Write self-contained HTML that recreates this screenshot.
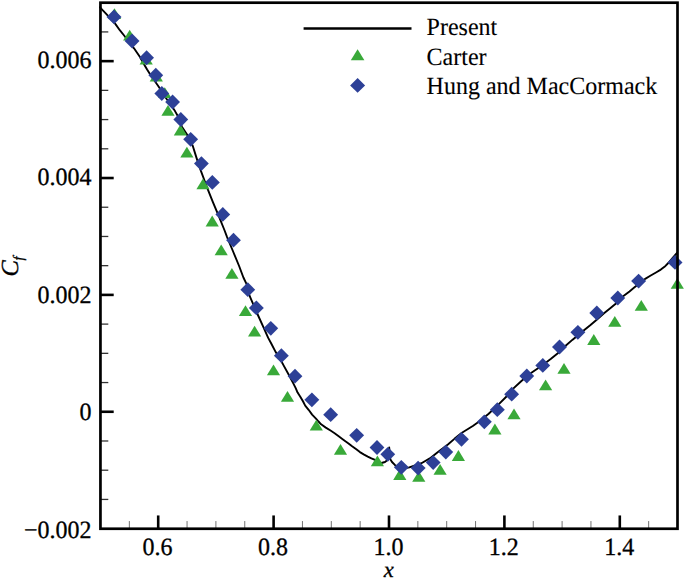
<!DOCTYPE html><html><head><meta charset="utf-8"><style>html,body{margin:0;padding:0;background:#fff;}svg{display:block;}text{font-family:"Liberation Serif",serif;text-rendering:geometricPrecision;stroke:#000;stroke-width:0.3px;}</style></head><body>
<svg width="685" height="580" viewBox="0 0 685 580">
<rect width="685" height="580" fill="#fff"/>
<line x1="129.35" y1="528.65" x2="129.35" y2="521.05" stroke="#000" stroke-width="1" stroke-opacity="0.55"/>
<line x1="158.20" y1="528.65" x2="158.20" y2="515.45" stroke="#000" stroke-width="2.6"/>
<line x1="187.05" y1="528.65" x2="187.05" y2="521.05" stroke="#000" stroke-width="1" stroke-opacity="0.55"/>
<line x1="215.90" y1="528.65" x2="215.90" y2="521.05" stroke="#000" stroke-width="1" stroke-opacity="0.55"/>
<line x1="244.75" y1="528.65" x2="244.75" y2="521.05" stroke="#000" stroke-width="1" stroke-opacity="0.55"/>
<line x1="273.60" y1="528.65" x2="273.60" y2="515.45" stroke="#000" stroke-width="2.6"/>
<line x1="302.45" y1="528.65" x2="302.45" y2="521.05" stroke="#000" stroke-width="1" stroke-opacity="0.55"/>
<line x1="331.30" y1="528.65" x2="331.30" y2="521.05" stroke="#000" stroke-width="1" stroke-opacity="0.55"/>
<line x1="360.15" y1="528.65" x2="360.15" y2="521.05" stroke="#000" stroke-width="1" stroke-opacity="0.55"/>
<line x1="389.00" y1="528.65" x2="389.00" y2="515.45" stroke="#000" stroke-width="2.6"/>
<line x1="417.85" y1="528.65" x2="417.85" y2="521.05" stroke="#000" stroke-width="1" stroke-opacity="0.55"/>
<line x1="446.70" y1="528.65" x2="446.70" y2="521.05" stroke="#000" stroke-width="1" stroke-opacity="0.55"/>
<line x1="475.55" y1="528.65" x2="475.55" y2="521.05" stroke="#000" stroke-width="1" stroke-opacity="0.55"/>
<line x1="504.40" y1="528.65" x2="504.40" y2="515.45" stroke="#000" stroke-width="2.6"/>
<line x1="533.25" y1="528.65" x2="533.25" y2="521.05" stroke="#000" stroke-width="1" stroke-opacity="0.55"/>
<line x1="562.10" y1="528.65" x2="562.10" y2="521.05" stroke="#000" stroke-width="1" stroke-opacity="0.55"/>
<line x1="590.95" y1="528.65" x2="590.95" y2="521.05" stroke="#000" stroke-width="1" stroke-opacity="0.55"/>
<line x1="619.80" y1="528.65" x2="619.80" y2="515.45" stroke="#000" stroke-width="2.6"/>
<line x1="648.65" y1="528.65" x2="648.65" y2="521.05" stroke="#000" stroke-width="1" stroke-opacity="0.55"/>
<line x1="100.50" y1="499.43" x2="108.30" y2="499.43" stroke="#000" stroke-width="1.3" stroke-opacity="0.8"/>
<line x1="100.50" y1="470.21" x2="108.30" y2="470.21" stroke="#000" stroke-width="1.3" stroke-opacity="0.8"/>
<line x1="100.50" y1="440.99" x2="108.30" y2="440.99" stroke="#000" stroke-width="1.3" stroke-opacity="0.8"/>
<line x1="100.50" y1="411.77" x2="113.70" y2="411.77" stroke="#000" stroke-width="2.6"/>
<line x1="100.50" y1="382.55" x2="108.30" y2="382.55" stroke="#000" stroke-width="1.3" stroke-opacity="0.8"/>
<line x1="100.50" y1="353.33" x2="108.30" y2="353.33" stroke="#000" stroke-width="1.3" stroke-opacity="0.8"/>
<line x1="100.50" y1="324.11" x2="108.30" y2="324.11" stroke="#000" stroke-width="1.3" stroke-opacity="0.8"/>
<line x1="100.50" y1="294.89" x2="113.70" y2="294.89" stroke="#000" stroke-width="2.6"/>
<line x1="100.50" y1="265.67" x2="108.30" y2="265.67" stroke="#000" stroke-width="1.3" stroke-opacity="0.8"/>
<line x1="100.50" y1="236.46" x2="108.30" y2="236.46" stroke="#000" stroke-width="1.3" stroke-opacity="0.8"/>
<line x1="100.50" y1="207.24" x2="108.30" y2="207.24" stroke="#000" stroke-width="1.3" stroke-opacity="0.8"/>
<line x1="100.50" y1="178.02" x2="113.70" y2="178.02" stroke="#000" stroke-width="2.6"/>
<line x1="100.50" y1="148.80" x2="108.30" y2="148.80" stroke="#000" stroke-width="1.3" stroke-opacity="0.8"/>
<line x1="100.50" y1="119.58" x2="108.30" y2="119.58" stroke="#000" stroke-width="1.3" stroke-opacity="0.8"/>
<line x1="100.50" y1="90.36" x2="108.30" y2="90.36" stroke="#000" stroke-width="1.3" stroke-opacity="0.8"/>
<line x1="100.50" y1="61.14" x2="113.70" y2="61.14" stroke="#000" stroke-width="2.6"/>
<line x1="100.50" y1="31.92" x2="108.30" y2="31.92" stroke="#000" stroke-width="1.3" stroke-opacity="0.8"/>
<polyline points="100.0,7.3 106.9,14.7 115.5,24.1 119.8,30.2 124.1,35.5 126.7,38.8 134.0,48.3 139.8,56.7 144.3,64.7 147.1,69.5 151.5,76.5 155.6,82.3 158.9,87.0 162.8,93.0 166.5,98.8 171.3,105.5 175.0,111.1 177.5,115.5 181.9,126.7 186.7,134.0 192.8,146.0 196.6,158.1 200.9,170.9 204.5,180.5 208.1,190.2 212.9,202.2 219.0,216.7 224.4,230.0 227.1,237.1 233.1,251.5 239.1,266.0 243.4,277.5 246.6,284.1 249.5,295.7 257.9,315.0 263.4,327.1 268.2,337.9 271.5,344.0 275.7,352.1 282.9,364.1 289.6,376.2 293.3,383.4 295.7,388.1 297.6,392.6 300.3,396.7 303.1,401.5 305.2,405.7 308.6,409.8 312.1,414.6 316.2,418.8 318.5,421.5 321.1,424.3 325.8,427.6 330.9,430.8 334.6,433.2 338.7,436.2 342.3,438.9 345.4,441.3 348.5,443.5 352.1,446.3 356.3,449.3 359.9,452.1 364.1,454.6 367.8,456.6 371.4,458.4 374.4,459.7 378.0,461.5 381.5,463.0 385.0,462.0 387.5,460.0 388.5,455.0 389.2,447.5 390.3,459.3 392.0,462.0 394.6,464.7 397.5,467.0 400.9,468.3 405.0,468.2 409.3,467.4 415.0,465.5 421.4,463.2 429.8,458.4 438.3,451.7 447.9,444.5 454.7,438.6 461.9,432.7 472.8,426.0 478.8,421.8 488.4,414.0 498.1,404.9 506.5,396.5 512.1,389.6 521.7,380.7 531.4,372.8 541.0,366.2 550.7,359.0 560.3,351.3 565.6,345.8 572.3,339.9 584.6,329.8 590.2,325.3 597.0,319.5 603.7,313.6 609.3,309.1 616.0,303.5 623.8,295.7 629.5,291.4 634.2,287.6 640.0,283.0 645.6,278.6 650.3,275.8 656.0,272.5 660.8,269.6 664.5,266.8 668.3,263.0 673.1,257.3 677.0,253.0" fill="none" stroke="#000" stroke-width="1.9" stroke-linejoin="round" stroke-linecap="round"/>
<path d="M114.5 8.2L121.1 19.0L107.9 19.0Z" fill="#39a939"/>
<path d="M129.7 29.7L136.3 40.5L123.1 40.5Z" fill="#39a939"/>
<path d="M146.2 53.7L152.8 64.5L139.6 64.5Z" fill="#39a939"/>
<path d="M156.3 70.7L162.9 81.5L149.7 81.5Z" fill="#39a939"/>
<path d="M164.8 87.3L171.4 98.1L158.2 98.1Z" fill="#39a939"/>
<path d="M168.0 105.0L174.6 115.8L161.4 115.8Z" fill="#39a939"/>
<path d="M180.4 124.6L187.0 135.4L173.8 135.4Z" fill="#39a939"/>
<path d="M186.9 146.7L193.5 157.5L180.3 157.5Z" fill="#39a939"/>
<path d="M203.0 178.4L209.6 189.2L196.4 189.2Z" fill="#39a939"/>
<path d="M212.2 215.6L218.8 226.4L205.6 226.4Z" fill="#39a939"/>
<path d="M221.2 244.4L227.8 255.2L214.6 255.2Z" fill="#39a939"/>
<path d="M231.9 267.9L238.5 278.7L225.3 278.7Z" fill="#39a939"/>
<path d="M245.5 305.2L252.1 316.0L238.9 316.0Z" fill="#39a939"/>
<path d="M254.6 325.7L261.2 336.5L248.0 336.5Z" fill="#39a939"/>
<path d="M273.5 364.4L280.1 375.2L266.9 375.2Z" fill="#39a939"/>
<path d="M287.5 391.0L294.1 401.8L280.9 401.8Z" fill="#39a939"/>
<path d="M316.3 419.8L322.9 430.6L309.7 430.6Z" fill="#39a939"/>
<path d="M340.5 443.9L347.1 454.7L333.9 454.7Z" fill="#39a939"/>
<path d="M377.4 455.4L384.0 466.2L370.8 466.2Z" fill="#39a939"/>
<path d="M399.8 469.1L406.4 479.9L393.2 479.9Z" fill="#39a939"/>
<path d="M418.8 470.9L425.4 481.7L412.2 481.7Z" fill="#39a939"/>
<path d="M440.1 463.9L446.7 474.7L433.5 474.7Z" fill="#39a939"/>
<path d="M458.4 450.1L465.0 460.9L451.8 460.9Z" fill="#39a939"/>
<path d="M494.9 423.6L501.5 434.4L488.3 434.4Z" fill="#39a939"/>
<path d="M514.0 408.4L520.6 419.2L507.4 419.2Z" fill="#39a939"/>
<path d="M545.6 379.5L552.2 390.3L539.0 390.3Z" fill="#39a939"/>
<path d="M564.0 362.9L570.6 373.7L557.4 373.7Z" fill="#39a939"/>
<path d="M593.8 334.1L600.4 344.9L587.2 344.9Z" fill="#39a939"/>
<path d="M614.8 316.0L621.4 326.8L608.2 326.8Z" fill="#39a939"/>
<path d="M641.3 300.0L647.9 310.8L634.7 310.8Z" fill="#39a939"/>
<path d="M677.3 277.9L683.9 288.7L670.7 288.7Z" fill="#39a939"/>
<path d="M114.0 9.4L121.5 16.9L114.0 24.3L106.5 16.9Z" fill="#2d4097"/>
<path d="M132.1 33.6L139.5 41.1L132.1 48.6L124.6 41.1Z" fill="#2d4097"/>
<path d="M146.6 50.3L154.0 57.8L146.6 65.2L139.2 57.8Z" fill="#2d4097"/>
<path d="M155.8 67.8L163.2 75.2L155.8 82.7L148.4 75.2Z" fill="#2d4097"/>
<path d="M161.8 86.1L169.2 93.6L161.8 101.0L154.4 93.6Z" fill="#2d4097"/>
<path d="M172.6 94.5L180.0 101.9L172.6 109.4L165.2 101.9Z" fill="#2d4097"/>
<path d="M180.8 112.0L188.2 119.5L180.8 127.0L173.4 119.5Z" fill="#2d4097"/>
<path d="M190.7 131.9L198.1 139.3L190.7 146.8L183.2 139.3Z" fill="#2d4097"/>
<path d="M201.4 156.2L208.8 163.6L201.4 171.0L194.0 163.6Z" fill="#2d4097"/>
<path d="M212.3 175.0L219.8 182.4L212.3 189.8L204.9 182.4Z" fill="#2d4097"/>
<path d="M222.8 207.0L230.2 214.4L222.8 221.8L215.4 214.4Z" fill="#2d4097"/>
<path d="M233.5 232.8L240.9 240.2L233.5 247.6L226.1 240.2Z" fill="#2d4097"/>
<path d="M247.8 282.2L255.2 289.7L247.8 297.1L240.4 289.7Z" fill="#2d4097"/>
<path d="M256.4 300.4L263.8 307.9L256.4 315.3L248.9 307.9Z" fill="#2d4097"/>
<path d="M270.8 320.9L278.2 328.3L270.8 335.8L263.4 328.3Z" fill="#2d4097"/>
<path d="M281.4 348.2L288.8 355.7L281.4 363.1L273.9 355.7Z" fill="#2d4097"/>
<path d="M295.0 368.8L302.4 376.2L295.0 383.6L287.6 376.2Z" fill="#2d4097"/>
<path d="M311.9 392.4L319.3 399.8L311.9 407.2L304.4 399.8Z" fill="#2d4097"/>
<path d="M330.7 407.2L338.1 414.7L330.7 422.1L323.2 414.7Z" fill="#2d4097"/>
<path d="M356.7 427.9L364.1 435.3L356.7 442.8L349.2 435.3Z" fill="#2d4097"/>
<path d="M377.0 440.1L384.4 447.5L377.0 454.9L369.6 447.5Z" fill="#2d4097"/>
<path d="M387.8 446.9L395.2 454.3L387.8 461.8L380.4 454.3Z" fill="#2d4097"/>
<path d="M401.3 459.9L408.8 467.3L401.3 474.8L393.9 467.3Z" fill="#2d4097"/>
<path d="M418.1 460.7L425.6 468.1L418.1 475.6L410.7 468.1Z" fill="#2d4097"/>
<path d="M433.2 455.2L440.6 462.6L433.2 470.1L425.8 462.6Z" fill="#2d4097"/>
<path d="M445.8 444.7L453.2 452.1L445.8 459.6L438.4 452.1Z" fill="#2d4097"/>
<path d="M461.5 431.9L468.9 439.3L461.5 446.8L454.1 439.3Z" fill="#2d4097"/>
<path d="M484.3 414.4L491.8 421.8L484.3 429.2L476.9 421.8Z" fill="#2d4097"/>
<path d="M497.3 402.2L504.8 409.7L497.3 417.1L489.9 409.7Z" fill="#2d4097"/>
<path d="M511.7 386.8L519.1 394.2L511.7 401.6L504.2 394.2Z" fill="#2d4097"/>
<path d="M526.8 368.6L534.2 376.0L526.8 383.4L519.3 376.0Z" fill="#2d4097"/>
<path d="M542.8 357.9L550.2 365.4L542.8 372.8L535.3 365.4Z" fill="#2d4097"/>
<path d="M559.5 339.6L567.0 347.0L559.5 354.4L552.0 347.0Z" fill="#2d4097"/>
<path d="M577.9 324.9L585.4 332.3L577.9 339.8L570.4 332.3Z" fill="#2d4097"/>
<path d="M596.8 305.6L604.2 313.0L596.8 320.4L589.3 313.0Z" fill="#2d4097"/>
<path d="M617.8 290.6L625.2 298.0L617.8 305.4L610.3 298.0Z" fill="#2d4097"/>
<path d="M638.6 273.7L646.1 281.1L638.6 288.6L631.1 281.1Z" fill="#2d4097"/>
<path d="M675.0 254.9L682.5 262.4L675.0 269.8L667.5 262.4Z" fill="#2d4097"/>
<rect x="100.45" y="2.7" width="577.05" height="526.05" fill="none" stroke="#000" stroke-width="2.7"/>
<text transform="translate(91.60,68.06) scale(1,1.035)" font-size="24" text-anchor="end">0.006</text>
<text transform="translate(91.60,185.41) scale(1,1.035)" font-size="24" text-anchor="end">0.004</text>
<text transform="translate(91.60,302.51) scale(1,1.035)" font-size="24" text-anchor="end">0.002</text>
<text transform="translate(91.60,420.16) scale(1,1.035)" font-size="24" text-anchor="end">0</text>
<text transform="translate(91.60,537.61) scale(1,1.035)" font-size="24" text-anchor="end">−0.002</text>
<text transform="translate(157.60,555.20) scale(1,1.035)" font-size="24" text-anchor="middle">0.6</text>
<text transform="translate(273.00,555.20) scale(1,1.035)" font-size="24" text-anchor="middle">0.8</text>
<text transform="translate(388.40,555.20) scale(1,1.035)" font-size="24" text-anchor="middle">1.0</text>
<text transform="translate(503.80,555.20) scale(1,1.035)" font-size="24" text-anchor="middle">1.2</text>
<text transform="translate(619.20,555.20) scale(1,1.035)" font-size="24" text-anchor="middle">1.4</text>
<text x="388.7" y="577.3" font-size="22.5" font-style="italic" text-anchor="middle">x</text>
<text transform="translate(18.2,276.6) rotate(-90)" font-size="24.5" font-style="italic">C<tspan font-size="14.5" dx="-0.3" dy="5.0">f</tspan></text>
<line x1="303.6" y1="28.5" x2="411.5" y2="28.5" stroke="#000" stroke-width="2.5"/>
<path d="M357.6 49.3L364.4 60.2L350.8 60.2Z" fill="#39a939"/>
<path d="M357.6 78.0L365.1 85.4L357.6 92.8L350.1 85.4Z" fill="#2d4097"/>
<text transform="translate(426.60,35.40) scale(1,1.035)" font-size="24" style="stroke-width:0.1px">Present</text>
<text transform="translate(426.60,64.70) scale(1,1.035)" font-size="24" style="stroke-width:0.1px">Carter</text>
<text transform="translate(426.60,93.70) scale(1,1.035)" font-size="24" style="stroke-width:0.1px">Hung and MacCormack</text>
</svg></body></html>
